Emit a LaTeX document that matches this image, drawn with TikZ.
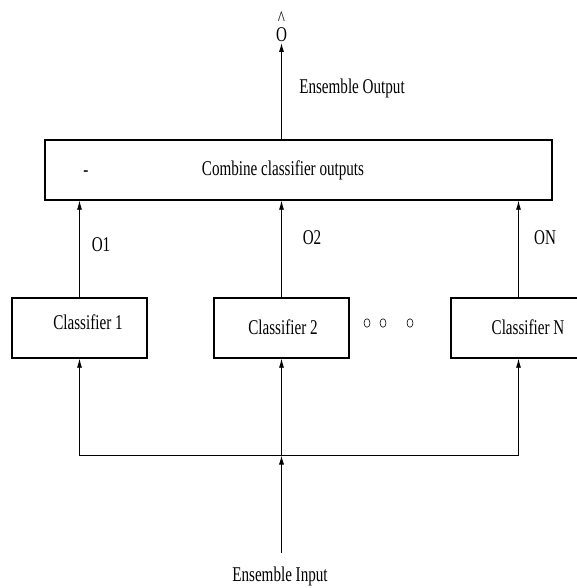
\documentclass[tikz,border=0pt]{standalone}
\usepackage{fontspec}
\setmainfont[FakeStretch=0.72]{Liberation Serif}
\usepackage{tikz}
\usetikzlibrary{arrows.meta,positioning,shapes.geometric}
\tikzset{flow/.style={-{Latex[length=9pt,width=5pt]},line width=.8pt}}

\begin{document}
\begin{tikzpicture}[x=1pt,y=-1pt,font=\fontsize{21}{24}\selectfont]%
        \useasboundingbox (0,0) rectangle (577,588);%%
        \clip (0,0) rectangle (577,588);%%
        % boxes
        \begin{scope}[shape=rectangle,line width=1.3pt]
        \tikzstyle{every node}=[draw,inner sep=0pt,minimum height=60pt] %%
        \node[minimum width=507pt] (comb) at (298.5,170) {}; %%
        \node[minimum width=135pt] (c1) at (79.5,328) {}; %%
        \node[minimum width=135pt] (c2) at (281.5,328) {}; %%
        \node[minimum width=135pt] (cn) at (518.5,328) {}; %%
        \end{scope}
        % texts
        \node (combtxt) at (283,170) {Combine classifier outputs}; %%
        \node (bar) at (86,174) {-}; %%
        \node (t1) at (88,322) {Classifier 1}; %%
        \node (t2) at (283,327) {Classifier 2}; %%
        \node (tn) at (528,327) {Classifier N}; %%
        \node (o1) at (101,245) {O1}; %%
        \node (o2) at (312,238) {O2}; %%
        \node (on) at (545,238) {ON}; %%
        \node[anchor=south,inner sep=1pt,align=center] (ohat) at (281.5,43) {\^{}\\[-8pt]O}; %%
        \node (eout) at (352,88) {Ensemble Output}; %%
        \node (ein) at (280,576) {Ensemble Input}; %%
        \begin{scope}[shape=ellipse,line width=.6pt]
        \tikzstyle{every node}=[draw,inner sep=0pt,minimum width=6pt,minimum height=8.5pt] %%
        \node (d1) at (367,323) {}; %%
        \node (d2) at (383,323) {}; %%
        \node (d3) at (410,323) {}; %%
        \end{scope}
        \coordinate (inbot) at (281.5,553); %%
        \coordinate (busl) at (79.5,455.5); %%
        \coordinate (busm) at (281.5,455.5); %%
        \coordinate (busr) at (518.5,455.5); %%
        % connectors
        \draw[flow] (inbot)--(busm); %%
        \draw[line width=.9pt] (busl)--(busr); %%
        \draw[flow] (busl)--(c1.south); %%
        \draw[flow] (busm)--(c2.south); %%
        \draw[flow] (busr)--(cn.south); %%
        \draw[flow] (c1.north)--(c1.north |- comb.south); %%
        \draw[flow] (c2.north)--(c2.north |- comb.south); %%
        \draw[flow] (cn.north)--(cn.north |- comb.south); %%
        \draw[flow] (c2.north |- comb.north)--(ohat.south); %%
\end{tikzpicture}
\end{document}
